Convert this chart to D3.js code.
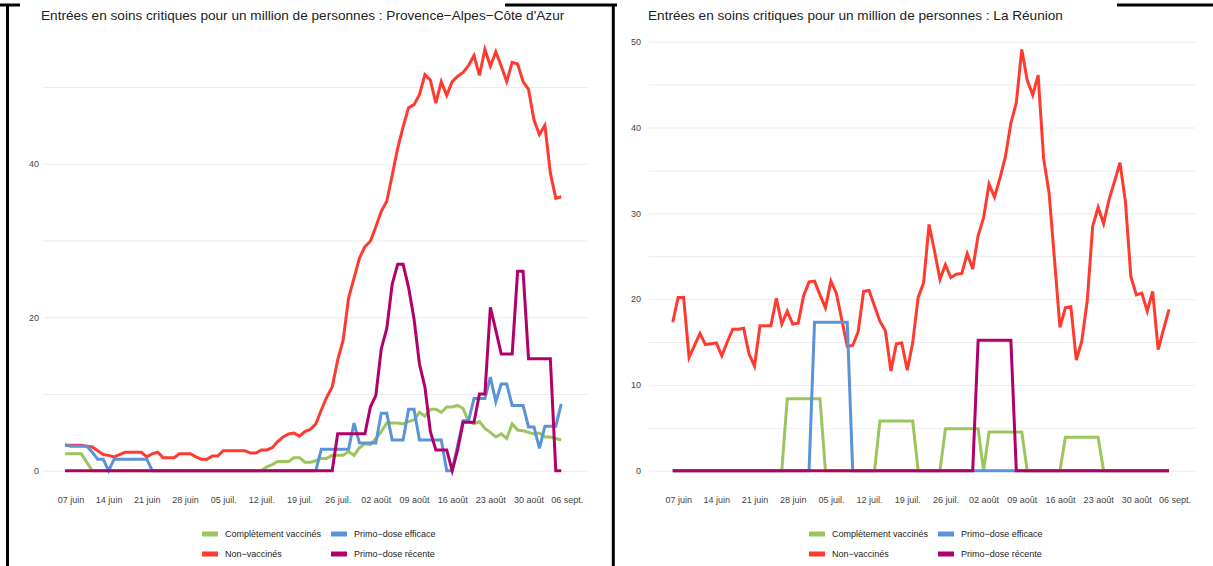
<!DOCTYPE html>
<html>
<head>
<meta charset="utf-8">
<script src="https://cdn.jsdelivr.net/npm/d3@7"></script>
<style>
  body { margin: 0; background: #fff; }
  svg { display: block; font-family: "Liberation Sans", Arial, sans-serif; }
</style>
</head>
<body>
<script>
// daily values, 06 juin -> 05 sept. 2021
const startDay = new Date(Date.UTC(2021, 5, 6));
const endTick = new Date(Date.UTC(2021, 8, 6));

const tickLabels = ["07 juin", "14 juin", "21 juin", "28 juin", "05 juil.", "12 juil.", "19 juil.",
  "26 juil.", "02 août", "09 août", "16 août", "23 août", "30 août", "06 sept."];

const seriesNames = ["Complètement vaccinés", "Non−vaccinés", "Primo−dose efficace", "Primo−dose récente"];
const seriesColors = ["#9cc55e", "#ff3b30", "#5b93d9", "#b2006b"];

// Provence-Alpes-Côte d'Azur
const pacaVaccines = [2.2,2.2,2.2,2.2,1.1,0,0,0,0,0, 0,0,0,0,0,0,0,0,0,0,
  0,0,0,0,0,0,0,0,0,0, 0,0,0,0,0,0,0,0.5,0.8,1.2, 1.2,1.2,1.7,1.7,1.1,1.1,1.3,1.6,1.6,2.0,
  2.0,2.0,2.5,2.0,3.0,3.5,3.4,4.2,5.1,6.2, 6.2,6.2,6.1,6.4,6.6,7.6,7.1,8.0,8.0,7.6,
  8.3,8.3,8.5,8.1,6.4,6.1,6.4,5.5,5.0,4.4, 4.8,4.2,6.1,5.3,5.2,5.0,4.8,4.9,4.4,4.4, 4.2,4.0];
const pacaNonVaccines = [3.3,3.3,3.3,3.3,3.2,3.1,2.6,2.1,2.0,1.8, 2.1,2.4,2.4,2.4,2.4,1.8,2.2,2.4,1.7,1.7,
  1.7,2.2,2.2,2.2,1.8,1.5,1.5,1.9,1.9,2.6, 2.6,2.6,2.6,2.6,2.3,2.3,2.7,2.7,3.0,3.8,
  4.4,4.8,4.9,4.5,5.1,5.4,6.1,7.9,9.6,10.9, 14.4,17.0,22.5,25.1,27.7,29.2,29.9,31.8,33.8,35.1,
  38.5,42.0,44.8,47.3,47.7,49.0,51.6,50.9,47.9,50.7, 48.9,50.7,51.4,51.9,52.8,54.1,51.5,54.9,52.7,54.6,
  52.7,50.7,53.2,53.0,50.7,49.7,45.7,43.8,45.0,38.8, 35.5,35.7];
const pacaPrimoEfficace = [3.4,3.2,3.2,3.2,3.2,2.4,1.5,1.5,0,1.5, 1.5,1.5,1.5,1.5,1.5,1.5,0,0,0,0,
  0,0,0,0,0,0,0,0,0,0, 0,0,0,0,0,0,0,0,0,0,
  0,0,0,0,0,0,0,2.8,2.8,2.8, 2.8,2.8,2.8,6.2,3.6,3.6,3.6,3.6,7.5,7.5,
  4.0,4.0,4.0,8.0,8.0,4.0,4.0,4.0,4.0,4.0, 0,0,3.3,6.5,6.5,9.4,9.4,9.4,12.2,9.0,
  11.3,11.3,8.5,8.5,8.5,5.7,5.7,2.9,5.8,5.8, 5.8,8.7];
const pacaPrimoRecente = [0,0,0,0,0,0,0,0,0,0, 0,0,0,0,0,0,0,0,0,0,
  0,0,0,0,0,0,0,0,0,0, 0,0,0,0,0,0,0,0,0,0,
  0,0,0,0,0,0,0,0,0,0, 4.8,4.8,4.8,4.8,4.8,4.8,8.3,9.8,15.9,18.5,
  24.3,26.9,26.9,23.9,19.8,13.9,10.9,5.1,2.7,2.7, 2.7,0,2.7,6.3,6.3,6.3,10.0,10.0,21.3,18.3,
  15.2,15.2,15.2,26.0,26.0,14.6,14.6,14.6,14.6,14.6, 0,0];

// La Réunion
const reunionVaccines = [0,0,0,0,0,0,0,0,0,0, 0,0,0,0,0,0,0,0,0,0,
  0,8.4,8.4,8.4,8.4,8.4,8.4,8.4,0,0, 0,0,0,0,0,0,0,0,5.8,5.8,
  5.8,5.8,5.8,5.8,5.8,0,0,0,0,0, 4.9,4.9,4.9,4.9,4.9,4.9,4.9,0,4.5,4.5,
  4.5,4.5,4.5,4.5,4.5,0,0,0,0,0, 0,0,3.9,3.9,3.9,3.9,3.9,3.9,3.9,0,
  0,0,0,0,0,0,0,0,0,0, 0,0];
const reunionNonVaccines = [17.3,20.2,20.2,13.2,14.6,16.0,14.7,14.8,14.9,13.4, 15.0,16.5,16.5,16.6,13.6,12.2,16.9,16.9,16.9,20.1,
  17.1,18.6,17.1,17.2,20.4,22.0,22.1,20.5,19.0,22.1, 20.7,17.6,14.5,14.6,16.2,20.9,21.0,19.2,17.4,16.3,
  11.6,14.8,14.9,11.7,14.9,20.2,21.9,28.7,25.6,22.3, 24.0,22.5,22.9,23.0,25.3,23.5,27.4,29.5,33.4,31.9,
  34.1,36.6,40.5,42.9,49.1,45.5,43.8,46.1,36.4,32.4, 24.6,16.7,19.0,19.1,12.9,15.1,19.8,28.5,30.7,28.8,
  31.6,33.7,35.9,31.4,22.6,20.5,20.7,18.6,20.9,14.1, 16.5,18.8];
const reunionPrimoEfficace = [0,0,0,0,0,0,0,0,0,0, 0,0,0,0,0,0,0,0,0,0,
  0,0,0,0,0,0,17.3,17.3,17.3,17.3, 17.3,17.3,17.3,0,0,0,0,0,0,0,
  0,0,0,0,0,0,0,0,0,0, 0,0,0,0,0,0,0,0,0,0,
  0,0,0,0,0,0,0,0,0,0, 0,0,0,0,0,0,0,0,0,0,
  0,0,0,0,0,0,0,0,0,0, 0,0];
const reunionPrimoRecente = [0,0,0,0,0,0,0,0,0,0, 0,0,0,0,0,0,0,0,0,0,
  0,0,0,0,0,0,0,0,0,0, 0,0,0,0,0,0,0,0,0,0,
  0,0,0,0,0,0,0,0,0,0, 0,0,0,0,0,0,15.2,15.2,15.2,15.2,
  15.2,15.2,15.2,0,0,0,0,0,0,0, 0,0,0,0,0,0,0,0,0,0,
  0,0,0,0,0,0,0,0,0,0, 0,0];

const width = 1213, height = 566;

const svg = d3.select("body").append("svg")
  .attr("width", width)
  .attr("height", height);

const panels = [
  {
    title: "Entrées en soins critiques pour un million de personnes : Provence−Alpes−Côte d'Azur",
    series: [pacaVaccines, pacaNonVaccines, pacaPrimoEfficace, pacaPrimoRecente],
    yMax: 55.9, grid: [0, 10, 20, 30, 40, 50], labelled: [0, 20, 40],
    titleX: 41, gridX0: 43, gridX1: 587, labelPad: 4, x0: 65, x1: 566.7,
    legendX: [202, 331]
  },
  {
    title: "Entrées en soins critiques pour un million de personnes : La Réunion",
    series: [reunionVaccines, reunionNonVaccines, reunionPrimoEfficace, reunionPrimoRecente],
    yMax: 50, grid: d3.range(0, 51, 5), labelled: [0, 10, 20, 30, 40, 50],
    titleX: 648, gridX0: 649, gridX1: 1195, labelPad: 8, x0: 672.7, x1: 1174.5,
    legendX: [809, 938]
  }
];

const yTop = 41.7, yBottom = 470.7;
const tickDates = tickLabels.map((l, i) => d3.utcDay.offset(startDay, 1 + 7 * i));
const days = pacaVaccines.map((v, i) => d3.utcDay.offset(startDay, i));

panels.forEach(p => {
  const x = d3.scaleUtc().domain([startDay, endTick]).range([p.x0, p.x1]);
  const y = d3.scaleLinear().domain([0, p.yMax]).range([yBottom, yTop]);

  svg.append("text")
    .attr("x", p.titleX)
    .attr("y", 20)
    .attr("font-size", 13.6)
    .attr("fill", "#222")
    .text(p.title);

  const yAxis = svg.append("g")
    .attr("transform", `translate(${p.gridX0},0)`)
    .call(d3.axisLeft(y)
      .tickValues(p.grid)
      .tickSize(-(p.gridX1 - p.gridX0))
      .tickPadding(p.labelPad)
      .tickFormat(d => p.labelled.includes(d) ? d : ""));
  yAxis.select(".domain").remove();
  yAxis.selectAll("line").attr("stroke", "#ebebeb");
  yAxis.selectAll("text").attr("font-size", 9).attr("fill", "#444")
    .attr("font-family", "Liberation Sans, Arial, sans-serif");

  const xAxis = svg.append("g")
    .attr("transform", `translate(0,${yBottom})`)
    .call(d3.axisBottom(x)
      .tickValues(tickDates)
      .tickSize(0)
      .tickPadding(26)
      .tickFormat((d, i) => tickLabels[i]));
  xAxis.select(".domain").remove();
  xAxis.selectAll("text").attr("font-size", 9).attr("fill", "#444")
    .attr("font-family", "Liberation Sans, Arial, sans-serif");

  const line = d3.line()
    .x((d, i) => x(days[i]))
    .y(d => y(d));

  p.series.forEach((s, k) => {
    svg.append("path")
      .datum(s)
      .attr("fill", "none")
      .attr("stroke", seriesColors[k])
      .attr("stroke-width", 3)
      .attr("d", line);
  });

  // legend: column 1 = first two series, column 2 = last two
  seriesNames.forEach((name, k) => {
    const col = Math.floor(k / 2), row = k % 2;
    const lx = p.legendX[col], ly = 534 + row * 20;
    svg.append("rect")
      .attr("x", lx).attr("y", ly - 2.5)
      .attr("width", 16).attr("height", 5)
      .attr("fill", seriesColors[k]);
    svg.append("text")
      .attr("x", lx + 23).attr("y", ly)
      .attr("dy", "0.35em")
      .attr("font-size", 9)
      .attr("fill", "#222")
      .text(name);
  });
});

// frame lines of the screenshot
const frame = [[0, 5, 20, 5], [505, 5, 617, 5], [1117, 5, 1213, 5], [7.5, 4, 7.5, 566], [613.3, 4, 613.3, 566]];
svg.append("g").selectAll("line")
  .data(frame)
  .join("line")
  .attr("x1", d => d[0]).attr("y1", d => d[1])
  .attr("x2", d => d[2]).attr("y2", d => d[3])
  .attr("stroke", "#000")
  .attr("stroke-width", 3);
</script>
</body>
</html>
